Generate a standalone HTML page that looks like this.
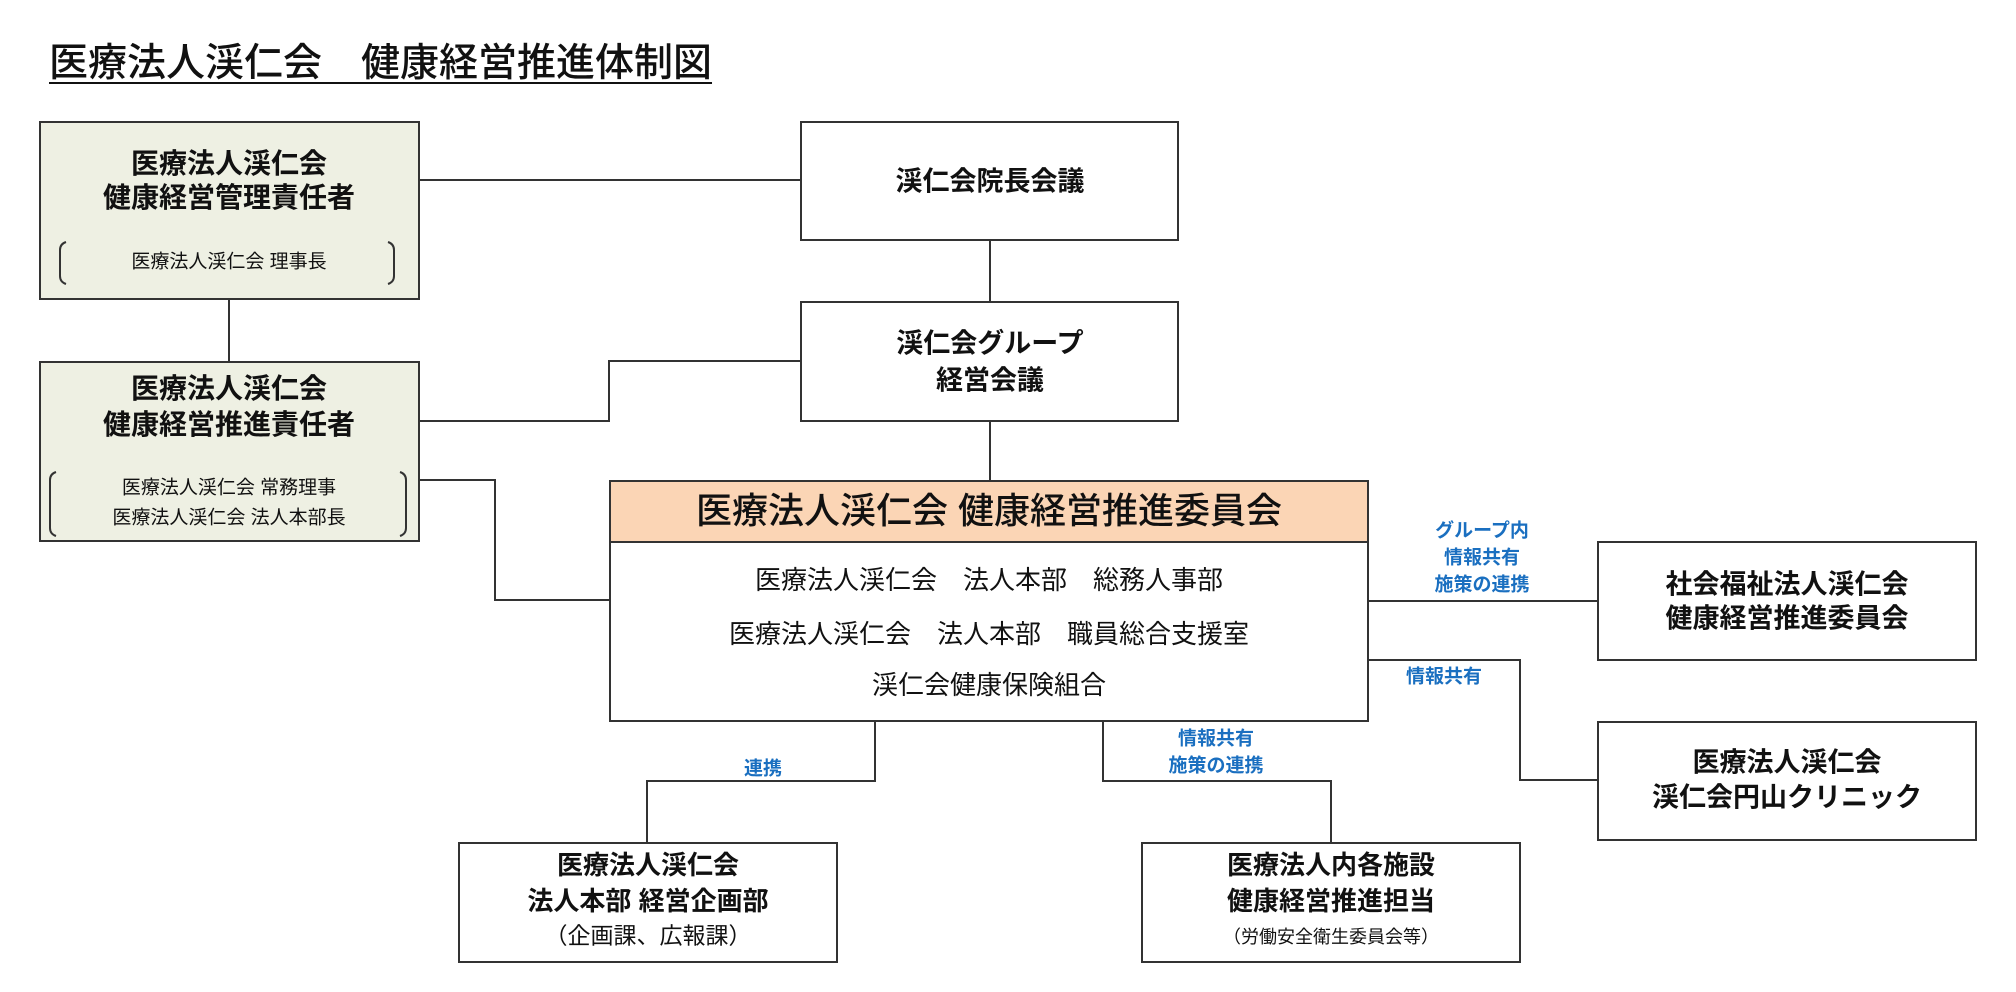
<!DOCTYPE html>
<html><head><meta charset="utf-8"><style>
body{margin:0;width:2016px;height:992px;background:#fff;position:relative;overflow:hidden;font-family:"Liberation Sans","Noto Sans CJK JP",sans-serif;color:#111}
.b{position:absolute;box-sizing:border-box;border:2px solid #333;background:#fff}
.g{background:#eef0e3}
.t{position:absolute;white-space:nowrap;transform:translate(-50%,-50%);font-weight:700;line-height:1}
.n{font-weight:400}
.bl{color:#1a6fc0;font-size:19px}
</style></head><body>
<div style="position:absolute;left:49px;top:44px;font-size:39px;font-weight:500;line-height:1;white-space:nowrap;letter-spacing:0px;text-decoration:underline;text-underline-offset:6px;text-decoration-thickness:2px">医療法人渓仁会　健康経営推進体制図</div>
<div class="b g" style="left:39px;top:121px;width:381px;height:179px"></div>
<div class="b g" style="left:39px;top:361px;width:381px;height:181px"></div>
<div class="b" style="left:800px;top:121px;width:379px;height:120px"></div>
<div class="b" style="left:800px;top:301px;width:379px;height:121px"></div>
<div class="b" style="left:609px;top:480px;width:760px;height:242px"></div>
<div style="position:absolute;left:611px;top:482px;width:756px;height:59px;background:#fbd5b5;border-bottom:2px solid #333"></div>
<div class="b" style="left:1597px;top:541px;width:380px;height:120px"></div>
<div class="b" style="left:1597px;top:721px;width:380px;height:120px"></div>
<div class="b" style="left:458px;top:842px;width:380px;height:121px"></div>
<div class="b" style="left:1141px;top:842px;width:380px;height:121px"></div>
<svg width="2016" height="992" style="position:absolute;left:0;top:0" fill="none" stroke="#333" stroke-width="2">
<path d="M419 180H800M229 299V362M990 240V302M419 421H609V361H800M990 421V481M419 480H495V600H609"/>
<path d="M1368 601H1597M1368 660H1520V780H1597"/>
<path d="M875 721V781H647V843M1103 721V781H1331V843"/>
<path d="M66 242Q60 244 60 250V276Q60 282 66 284M388 242Q394 244 394 250V276Q394 282 388 284"/>
<path d="M56 472Q50 474 50 480V528Q50 534 56 536M400 472Q406 474 406 480V528Q406 534 400 536"/>
</svg>

<div class="t" style="left:229px;top:164px;font-size:28px">医療法人渓仁会</div>
<div class="t" style="left:229px;top:198px;font-size:28px">健康経営管理責任者</div>
<div class="t n" style="left:229px;top:262px;font-size:19px">医療法人渓仁会 理事長</div>
<div class="t" style="left:229px;top:389px;font-size:28px">医療法人渓仁会</div>
<div class="t" style="left:229px;top:425px;font-size:28px">健康経営推進責任者</div>
<div class="t n" style="left:229px;top:488px;font-size:19px">医療法人渓仁会 常務理事</div>
<div class="t n" style="left:229px;top:518px;font-size:19px">医療法人渓仁会 法人本部長</div>
<div class="t" style="left:990px;top:182px;font-size:27px">渓仁会院長会議</div>
<div class="t" style="left:990px;top:344px;font-size:27px">渓仁会グループ</div>
<div class="t" style="left:990px;top:381px;font-size:27px">経営会議</div>
<div class="t" style="left:989px;top:511px;font-size:36px;font-weight:500">医療法人渓仁会 健康経営推進委員会</div>
<div class="t n" style="left:989px;top:580px;font-size:26px">医療法人渓仁会　法人本部　総務人事部</div>
<div class="t n" style="left:989px;top:634px;font-size:26px">医療法人渓仁会　法人本部　職員総合支援室</div>
<div class="t n" style="left:989px;top:685px;font-size:26px">渓仁会健康保険組合</div>
<div class="t" style="left:1787px;top:585px;font-size:27px">社会福祉法人渓仁会</div>
<div class="t" style="left:1787px;top:619px;font-size:27px">健康経営推進委員会</div>
<div class="t" style="left:1787px;top:763px;font-size:27px">医療法人渓仁会</div>
<div class="t" style="left:1787px;top:798px;font-size:27px">渓仁会円山クリニック</div>
<div class="t" style="left:648px;top:865px;font-size:26px">医療法人渓仁会</div>
<div class="t" style="left:648px;top:901px;font-size:26px">法人本部 経営企画部</div>
<div class="t n" style="left:648px;top:936px;font-size:23px">（企画課、広報課）</div>
<div class="t" style="left:1331px;top:865px;font-size:26px">医療法人内各施設</div>
<div class="t" style="left:1331px;top:901px;font-size:26px">健康経営推進担当</div>
<div class="t n" style="left:1331px;top:937px;font-size:18px">（労働安全衛生委員会等）</div>

<div class="t bl" style="left:1482px;top:531px">グループ内</div>
<div class="t bl" style="left:1482px;top:558px">情報共有</div>
<div class="t bl" style="left:1482px;top:585px">施策の連携</div>
<div class="t bl" style="left:1444px;top:677px">情報共有</div>
<div class="t bl" style="left:763px;top:769px">連携</div>
<div class="t bl" style="left:1216px;top:739px">情報共有</div>
<div class="t bl" style="left:1216px;top:766px">施策の連携</div>
</body></html>
